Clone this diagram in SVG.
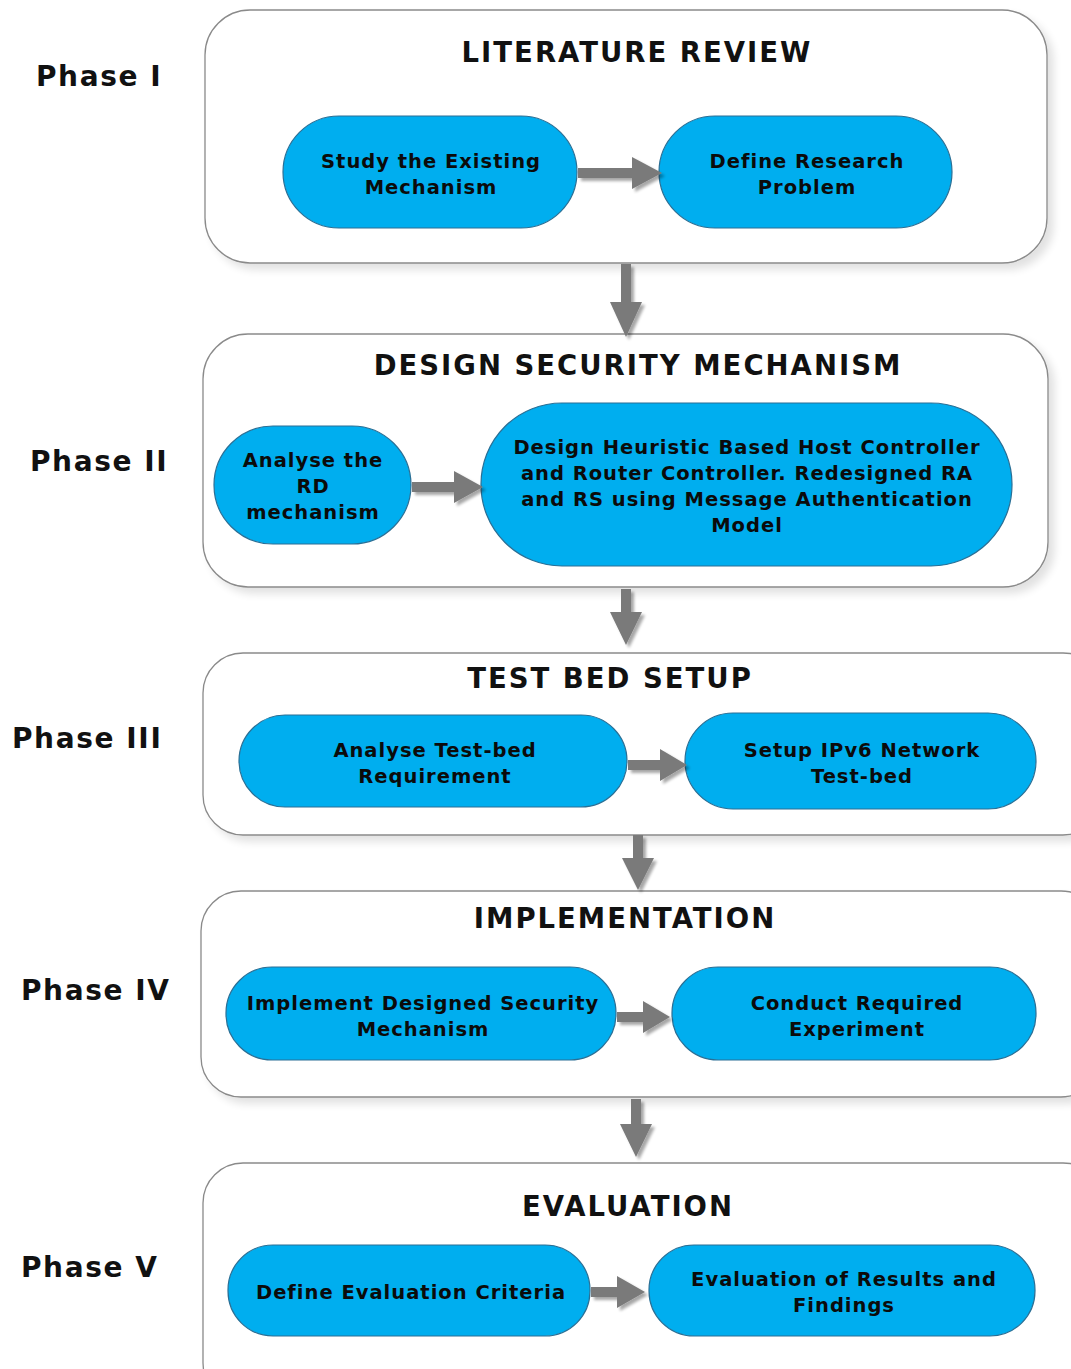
<svg xmlns="http://www.w3.org/2000/svg" width="1071" height="1369" viewBox="0 0 1071 1369">
  <defs>
    <filter id="panelShadow" x="-5%" y="-5%" width="112%" height="115%">
      <feGaussianBlur in="SourceAlpha" stdDeviation="4"/>
      <feOffset dx="6" dy="6" result="b"/>
      <feComponentTransfer><feFuncA type="linear" slope="0.12"/></feComponentTransfer>
      <feMerge><feMergeNode/><feMergeNode in="SourceGraphic"/></feMerge>
    </filter>
    <filter id="arrowShadow" x="-30%" y="-30%" width="160%" height="160%">
      <feGaussianBlur in="SourceAlpha" stdDeviation="1.5"/>
      <feOffset dx="3" dy="3" result="b"/>
      <feComponentTransfer><feFuncA type="linear" slope="0.35"/></feComponentTransfer>
      <feMerge><feMergeNode/><feMergeNode in="SourceGraphic"/></feMerge>
    </filter>
  </defs>
  <style>
    .panel { fill: #ffffff; stroke: #8a8a8a; stroke-width: 1.3; }
    .pill { fill: #00aeef; stroke: #2a6f95; stroke-width: 1.2; }
    .title { font-family: "DejaVu Sans", Verdana, sans-serif; font-weight: bold; font-size: 27.5px; letter-spacing: 2px; fill: #111; text-anchor: middle; }
    .phase { font-family: "DejaVu Sans", Verdana, sans-serif; font-weight: bold; font-size: 28px; letter-spacing: 1.6px; fill: #111; }
    .lbl { font-family: "DejaVu Sans", Verdana, sans-serif; font-weight: bold; font-size: 19.5px; letter-spacing: 1px; fill: #0b0b0b; text-anchor: middle; }
    .arrow { fill: #7a7a7a; }
  </style>
  <rect width="1071" height="1369" fill="#ffffff"/>

  <!-- phase labels -->
  <g id="phase-labels">
    <text class="phase" x="36" y="86">Phase I</text>
    <text class="phase" x="30" y="471">Phase II</text>
    <text class="phase" x="12" y="748">Phase III</text>
    <text class="phase" x="21" y="1000">Phase IV</text>
    <text class="phase" x="21" y="1277">Phase V</text>
  </g>

  <!-- phase panels -->
  <g id="panel-literature-review">
    <rect class="panel" x="205" y="10" width="842" height="253" rx="45" filter="url(#panelShadow)"/>
    <text class="title" x="637" y="62">LITERATURE REVIEW</text>
  </g>
  <g id="panel-design">
    <rect class="panel" x="203" y="334" width="845" height="253" rx="45" filter="url(#panelShadow)"/>
    <text class="title" x="638" y="375">DESIGN SECURITY MECHANISM</text>
  </g>
  <g id="panel-testbed">
    <rect class="panel" x="203" y="653" width="900" height="182" rx="40" filter="url(#panelShadow)"/>
    <text class="title" x="610" y="688">TEST BED SETUP</text>
  </g>
  <g id="panel-implementation">
    <rect class="panel" x="201" y="891" width="900" height="206" rx="40" filter="url(#panelShadow)"/>
    <text class="title" x="625" y="928">IMPLEMENTATION</text>
  </g>
  <g id="panel-evaluation">
    <rect class="panel" x="203" y="1163" width="900" height="240" rx="40" filter="url(#panelShadow)"/>
    <text class="title" x="628" y="1216">EVALUATION</text>
  </g>

  <!-- steps -->
  <g id="study-existing">
    <rect class="pill" x="283" y="116" width="294" height="112" rx="56"/>
    <text class="lbl" x="431" y="168">Study the Existing</text>
    <text class="lbl" x="431" y="194">Mechanism</text>
  </g>
  <g id="define-problem">
    <rect class="pill" x="659" y="116" width="293" height="112" rx="56"/>
    <text class="lbl" x="807" y="168">Define Research</text>
    <text class="lbl" x="807" y="194">Problem</text>
  </g>
  <g id="analyse-rd">
    <rect class="pill" x="214" y="426" width="197" height="118" rx="59"/>
    <text class="lbl" x="313" y="467">Analyse the</text>
    <text class="lbl" x="313" y="493">RD</text>
    <text class="lbl" x="313" y="519">mechanism</text>
  </g>
  <g id="design-controllers">
    <rect class="pill" x="481" y="403" width="531" height="163" rx="81"/>
    <text class="lbl" x="747" y="454">Design Heuristic Based Host Controller</text>
    <text class="lbl" x="747" y="480">and Router Controller. Redesigned RA</text>
    <text class="lbl" x="747" y="506">and RS using Message Authentication</text>
    <text class="lbl" x="747" y="532">Model</text>
  </g>
  <g id="analyse-testbed">
    <rect class="pill" x="239" y="715" width="388" height="92" rx="46"/>
    <text class="lbl" x="435" y="757">Analyse Test-bed</text>
    <text class="lbl" x="435" y="783">Requirement</text>
  </g>
  <g id="setup-network">
    <rect class="pill" x="685" y="713" width="351" height="96" rx="48"/>
    <text class="lbl" x="862" y="757">Setup IPv6 Network</text>
    <text class="lbl" x="862" y="783">Test-bed</text>
  </g>
  <g id="implement-mechanism">
    <rect class="pill" x="226" y="967" width="390" height="93" rx="46"/>
    <text class="lbl" x="423" y="1010">Implement Designed Security</text>
    <text class="lbl" x="423" y="1036">Mechanism</text>
  </g>
  <g id="conduct-experiment">
    <rect class="pill" x="672" y="967" width="364" height="93" rx="46"/>
    <text class="lbl" x="857" y="1010">Conduct Required</text>
    <text class="lbl" x="857" y="1036">Experiment</text>
  </g>
  <g id="define-criteria">
    <rect class="pill" x="228" y="1245" width="362" height="91" rx="45"/>
    <text class="lbl" x="411" y="1299">Define Evaluation Criteria</text>
  </g>
  <g id="evaluate-results">
    <rect class="pill" x="649" y="1245" width="386" height="91" rx="45"/>
    <text class="lbl" x="844" y="1286">Evaluation of Results and</text>
    <text class="lbl" x="844" y="1312">Findings</text>
  </g>

  <!-- connectors: block arrows -->
  <g id="connectors" class="arrow" filter="url(#arrowShadow)">
    <!-- horizontal arrows -->
    <polygon points="578,168 632,168 632,157 662,173 632,189 632,178 578,178"/>
    <polygon points="412,482 454,482 454,471 483,487 454,503 454,492 412,492"/>
    <polygon points="628,760 660,760 660,749 687,765 660,781 660,770 628,770"/>
    <polygon points="617,1012 643,1012 643,1001 670,1017 643,1033 643,1022 617,1022"/>
    <polygon points="591,1287 617,1287 617,1276 645,1292 617,1308 617,1297 591,1297"/>
    <!-- vertical arrows -->
    <polygon points="621,264 631,264 631,302 642,302 626,337 610,302 621,302"/>
    <polygon points="621,589 631,589 631,612 642,612 626,645 610,612 621,612"/>
    <polygon points="633,835 643,835 643,858 654,858 638,890 622,858 633,858"/>
    <polygon points="631,1099 641,1099 641,1124 652,1124 636,1157 620,1124 631,1124"/>
  </g>
</svg>
